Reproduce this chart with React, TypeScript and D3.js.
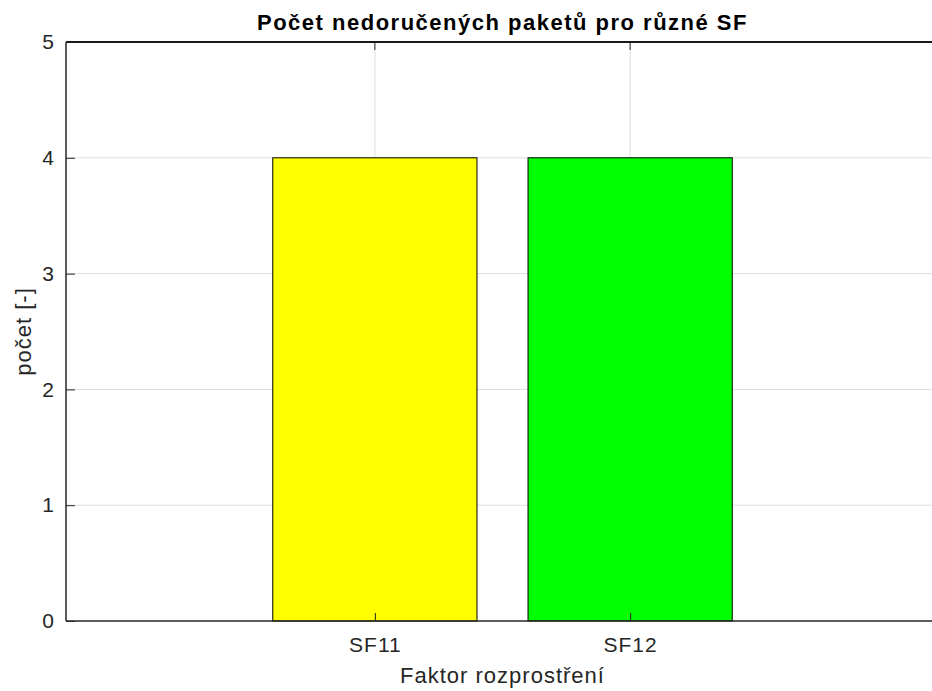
import React, { useEffect, useRef } from "react";
import * as d3 from "d3";

const categories = ["SF11", "SF12"];
const counts = [4, 4];
const barColors = ["#ffff00", "#00ff00"];
const yTicks = [0, 1, 2, 3, 4, 5];

const App = () => {
  const ref = useRef<SVGSVGElement>(null);

  useEffect(() => {
    const width = 932;
    const height = 691;
    const margin = { top: 42, right: -7, bottom: 70, left: 66 };
    const innerW = width - margin.left - margin.right;
    const innerH = height - margin.top - margin.bottom;
    const font = "Liberation Sans, Arial, Helvetica, sans-serif";

    const svg = d3.select(ref.current);
    svg.selectAll("*").remove();
    svg.attr("width", width).attr("height", height);

    svg.append("rect").attr("width", width).attr("height", height).attr("fill", "#ffffff");

    const g = svg.append("g").attr("transform", `translate(${margin.left},${margin.top})`);

    const x = d3.scalePoint<string>().domain(categories).range([0, innerW]).padding(1.21);
    const step = x.step();
    const barW = step * 0.8;

    const y = d3.scaleLinear().domain([0, 5]).range([innerH, 0]);

    // grid
    g.append("g")
      .selectAll("line")
      .data(yTicks.slice(1, -1))
      .enter()
      .append("line")
      .attr("x1", 0)
      .attr("x2", innerW)
      .attr("y1", (d) => y(d))
      .attr("y2", (d) => y(d))
      .attr("stroke", "#dedede")
      .attr("stroke-width", 1);

    g.append("g")
      .selectAll("line")
      .data(categories)
      .enter()
      .append("line")
      .attr("x1", (d) => x(d)!)
      .attr("x2", (d) => x(d)!)
      .attr("y1", 0)
      .attr("y2", innerH)
      .attr("stroke", "#dedede")
      .attr("stroke-width", 1);

    // bars
    g.selectAll("rect.bar")
      .data(counts)
      .enter()
      .append("rect")
      .attr("class", "bar")
      .attr("x", (d, i) => x(categories[i])! - barW / 2)
      .attr("y", (d) => y(d))
      .attr("width", barW)
      .attr("height", (d) => innerH - y(d))
      .attr("fill", (d, i) => barColors[i])
      .attr("stroke", "#000000")
      .attr("stroke-width", 1);

    // axes
    const axisColor = "#262626";
    const yAxis = d3.axisLeft(y).tickValues(yTicks).tickSize(-9).tickPadding(12).tickFormat(d3.format("d"));
    const yg = g.append("g").call(yAxis);
    yg.select(".domain").remove();
    yg.selectAll(".tick line").attr("stroke", axisColor);
    yg.selectAll(".tick text")
      .attr("fill", axisColor)
      .style("font-family", font)
      .style("font-size", "21px");

    const xAxis = d3.axisBottom(x).tickSize(-8).tickPadding(16);
    const xg = g.append("g").attr("transform", `translate(0,${innerH})`).call(xAxis);
    xg.select(".domain").remove();
    xg.selectAll(".tick line").attr("stroke", axisColor);
    xg.selectAll(".tick text")
      .attr("fill", axisColor)
      .style("font-family", font)
      .style("font-size", "21px")
      .style("letter-spacing", "1px");

    // top ticks
    g.append("g")
      .selectAll("line")
      .data(categories)
      .enter()
      .append("line")
      .attr("x1", (d) => x(d)!)
      .attr("x2", (d) => x(d)!)
      .attr("y1", 0)
      .attr("y2", 8)
      .attr("stroke", axisColor);

    // box
    g.append("line").attr("x1", 0).attr("x2", innerW).attr("y1", 0).attr("y2", 0)
      .attr("stroke", "#1a1a1a").attr("stroke-width", 2);
    g.append("line").attr("x1", 0).attr("x2", innerW).attr("y1", innerH).attr("y2", innerH)
      .attr("stroke", axisColor).attr("stroke-width", 1.5);
    g.append("line").attr("x1", 0).attr("x2", 0).attr("y1", 0).attr("y2", innerH)
      .attr("stroke", axisColor).attr("stroke-width", 1.5);

    // labels
    svg.append("text")
      .attr("x", margin.left + innerW / 2)
      .attr("y", 30)
      .attr("text-anchor", "middle")
      .style("font-family", font)
      .style("font-size", "22px")
      .style("font-weight", "bold")
      .style("letter-spacing", "1.5px")
      .attr("fill", "#000000")
      .text("Počet nedoručených paketů pro různé SF");

    svg.append("text")
      .attr("x", margin.left + innerW / 2)
      .attr("y", 683)
      .attr("text-anchor", "middle")
      .style("font-family", font)
      .style("font-size", "22px")
      .style("letter-spacing", "1px")
      .attr("fill", axisColor)
      .text("Faktor rozprostření");

    svg.append("text")
      .attr("transform", `translate(31,${margin.top + innerH / 2}) rotate(-90)`)
      .attr("text-anchor", "middle")
      .style("font-family", font)
      .style("font-size", "22px")
      .style("letter-spacing", "1px")
      .attr("fill", axisColor)
      .text("počet [-]");
  }, []);

  return (
    <svg ref={ref} style={{ position: "absolute", left: 0, top: 0, display: "block" }} />
  );
};

export default App;
